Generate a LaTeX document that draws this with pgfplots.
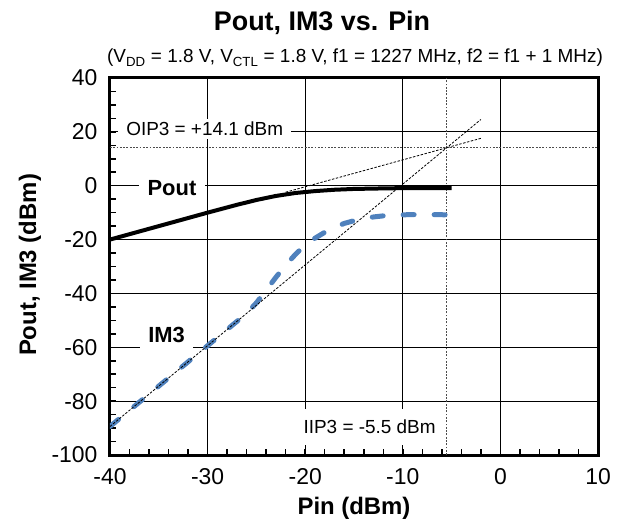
\documentclass[border=0pt]{standalone}
\usepackage{pgfplots}
\pgfplotsset{compat=1.18}
\usepackage{fontspec}
\setmainfont{Liberation Sans}
\definecolor{imblue}{RGB}{79,129,189}
\begin{document}
\begin{tikzpicture}
\path[use as bounding box] (-110bp,-67bp) rectangle (511bp,455bp);
\begin{axis}[
  scale only axis, width=488bp, height=377bp,
  xmin=-40, xmax=10, ymin=-100, ymax=40,
  xtick={-40,-30,-20,-10,0,10}, ytick={-100,-80,-60,-40,-20,0,20,40},
  minor xtick={-38,-36,...,8}, minor ytick={-95,-90,...,35},
  tick align=inside, xtick pos=bottom, ytick pos=left,
  major tick length=0pt, minor tick length=6bp,
  minor tick style={black, line width=1.5bp},
  xmajorgrids=true, ymajorgrids=true,
  major grid style={black, line width=1.2bp},
  axis line style={black, line width=3bp},
  /pgf/number format/assume math mode=true,
  tick label style={font=\fontsize{23}{27}\selectfont},
  xticklabel style={yshift=-10bp},
  yticklabel style={xshift=-9bp},
  label style={font=\fontsize{24}{28}\selectfont\bfseries},
  xlabel={Pin (dBm)}, ylabel={Pout, IM3 (dBm)},
  xlabel style={at={(axis description cs:0.5,-0.1406)}, anchor=center},
  ylabel style={at={(axis description cs:-0.164,0.504)}, anchor=center},
]
% reference lines
\addplot[gray!60!black, line width=1bp, dash pattern=on 1.8bp off 1.5bp] coordinates {(-5.5,-100) (-5.5,40)};
\addplot[gray!60!black, line width=1bp, dash pattern=on 1.8bp off 1.5bp] coordinates {(-40,14.1) (10,14.1)};
% IM3
\addplot[imblue, line width=5bp, dash pattern=on 11bp off 20bp, line cap=round] coordinates {
 (-40,-89.4) (-35,-74.4) (-30,-59.4) (-27,-50.4) (-26,-47.4) (-25,-43.5) (-24,-38.8)
 (-23,-34) (-22,-29.5) (-21,-25.5) (-20,-22) (-19,-19.5) (-18,-17.3) (-17,-15.5)
 (-16,-14) (-15,-13) (-14,-12.2) (-13,-11.6) (-12,-11.2) (-10,-10.8) (-8,-10.7) (-5.5,-10.8)};
% Pout
\addplot[black, line width=4bp, line join=round] coordinates {
 (-40,-20) (-35,-15) (-30,-10) (-27,-7.1) (-25,-5.3) (-23,-3.8) (-21,-2.7) (-19,-2.0)
 (-17,-1.5) (-15,-1.2) (-12,-1.0) (-10,-0.9) (-5,-0.9)};
% extrapolation lines
\addplot[black, line width=0.8bp, dash pattern=on 2.5bp off 1.5bp] coordinates {(-22,-2.4) (-2,17.6)};
\addplot[black, line width=0.8bp, dash pattern=on 2.5bp off 1.5bp] coordinates {(-40,-89.4) (-2,24.6)};
% labels
\node[fill=white, inner xsep=8bp, inner ysep=3bp, font=\fontsize{19}{22}\selectfont] at (axis cs:-30.3,21.2) {OIP3 = +14.1 dBm};
\node[fill=white, inner xsep=9bp, inner ysep=4bp, font=\fontsize{22}{26}\selectfont\bfseries] at (axis cs:-33.65,-0.8) {Pout};
\node[fill=white, inner xsep=8bp, minimum height=28bp, font=\fontsize{22}{26}\selectfont\bfseries] at (axis cs:-34.2,-55.6) {IM3};
\node[fill=white, inner xsep=3bp, minimum height=36bp, font=\fontsize{19}{22}\selectfont] at (axis cs:-13.4,-89.6) {IIP3 = -5.5 dBm};
\end{axis}
\node[font=\fontsize{27}{31}\selectfont\bfseries] at (212bp,432bp) {Pout, IM3 vs. Pin};
\node[font=\fontsize{19}{22}\selectfont] at (245bp,397bp) {(V\textsubscript{DD} = 1.8 V, V\textsubscript{CTL} = 1.8 V, f1 = 1227 MHz, f2 = f1 + 1 MHz)};
\end{tikzpicture}
\end{document}
